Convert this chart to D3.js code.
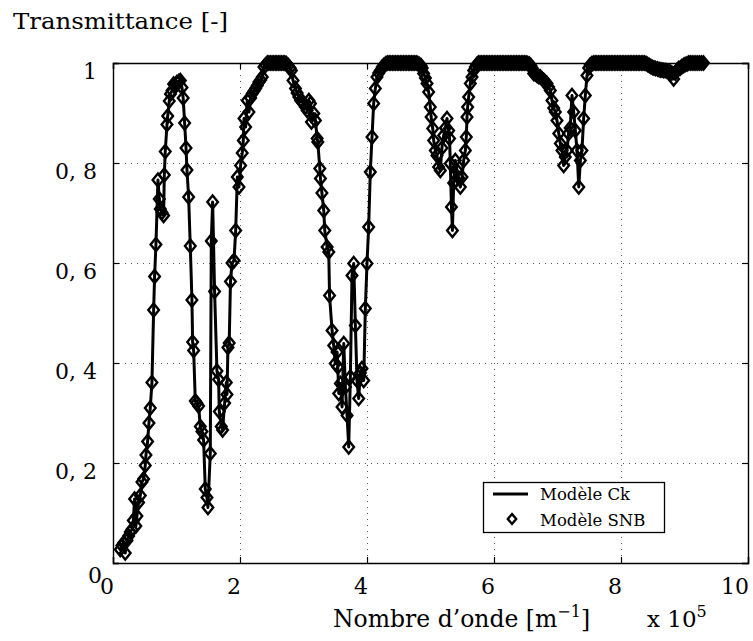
<!DOCTYPE html>
<html>
<head>
<meta charset="utf-8">
<script src="https://cdn.jsdelivr.net/npm/d3@7"></script>
<style>
  html, body { margin: 0; padding: 0; background: #fff; }
  svg { display: block; }
  text { font-family: "DejaVu Serif", "Liberation Serif", serif; fill: #000; }
</style>
</head>
<body>
<svg id="chart" width="753" height="641"></svg>
<script>
// ---------- DATA ----------
// wavenumber in units of 10^5 m^-1
const wavenumber = [
  0.115,0.14,0.167,0.193,0.22,0.246,0.272,0.298,0.32,0.34,0.36,0.377,0.403,0.43,0.456,0.482,0.508,0.519,0.545,0.566,
  0.587,0.613,0.64,0.655,0.676,0.708,0.729,0.745,0.771,0.797,0.808,0.823,0.85,0.862,0.886,0.905,0.93,0.955,0.98,1.007,
  1.035,1.06,1.086,1.105,1.128,1.15,1.165,1.191,1.217,1.243,1.254,1.27,1.296,1.32,1.348,1.375,1.401,1.427,1.453,1.48,
  1.495,1.532,1.548,1.569,1.6,1.637,1.663,1.674,1.705,1.726,1.758,1.784,1.795,1.81,1.83,1.85,1.875,1.906,1.932,1.958,
  1.984,2.01,2.035,2.052,2.063,2.089,2.115,2.141,2.168,2.194,2.22,2.246,2.272,2.298,2.325,2.351,2.377,2.403,2.43,2.455,
  2.48,2.505,2.53,2.555,2.58,2.605,2.63,2.655,2.68,2.705,2.73,2.76,2.79,2.81,2.835,2.874,2.9,2.927,2.955,2.98,
  3.005,3.03,3.058,3.085,3.11,3.125,3.162,3.188,3.215,3.225,3.257,3.267,3.29,3.319,3.335,3.372,3.398,3.41,3.45,3.476,
  3.5,3.529,3.54,3.555,3.581,3.607,3.634,3.66,3.686,3.712,3.738,3.764,3.791,3.817,3.843,3.869,3.895,3.921,3.948,3.974,
  4.0,4.026,4.052,4.079,4.105,4.131,4.157,4.185,4.21,4.24,4.27,4.3,4.325,4.35,4.375,4.4,4.425,4.45,4.475,4.5,
  4.525,4.55,4.575,4.6,4.625,4.65,4.675,4.7,4.725,4.75,4.775,4.8,4.825,4.85,4.87,4.892,4.92,4.945,4.971,4.997,
  5.01,5.035,5.05,5.076,5.102,5.128,5.155,5.18,5.207,5.235,5.26,5.286,5.3,5.312,5.33,5.345,5.365,5.391,5.417,5.445,
  5.47,5.496,5.522,5.549,5.564,5.575,5.585,5.601,5.627,5.654,5.68,5.706,5.73,5.755,5.78,5.805,5.83,5.855,5.88,5.905,
  5.93,5.955,5.98,6.005,6.03,6.055,6.08,6.105,6.13,6.155,6.18,6.205,6.23,6.255,6.28,6.305,6.33,6.355,6.38,6.405,
  6.43,6.455,6.48,6.505,6.53,6.555,6.58,6.6,6.625,6.65,6.68,6.705,6.73,6.76,6.785,6.81,6.835,6.86,6.887,6.913,
  6.94,6.966,6.992,7.02,7.045,7.071,7.097,7.123,7.149,7.175,7.2,7.228,7.255,7.281,7.307,7.335,7.36,7.385,7.412,7.438,
  7.464,7.49,7.515,7.543,7.57,7.595,7.62,7.645,7.67,7.695,7.72,7.745,7.77,7.795,7.82,7.845,7.87,7.895,7.92,7.945,
  7.97,7.995,8.02,8.045,8.07,8.095,8.12,8.145,8.17,8.195,8.22,8.245,8.27,8.295,8.32,8.345,8.37,8.395,8.42,8.445,
  8.47,8.495,8.52,8.545,8.575,8.6,8.62,8.645,8.67,8.695,8.724,8.75,8.775,8.8,8.829,8.855,8.88,8.908,8.935,8.96,
  8.986,9.01,9.04,9.065,9.091,9.12,9.15,9.18,9.21,9.24,9.27,9.3
];

// Modèle Ck (line)
const transmittanceCk = [
  0.027,0.035,0.040,0.020,0.045,0.054,0.062,0.067,0.085,0.128,0.074,0.094,0.121,0.135,0.162,0.168,0.195,0.216,0.243,0.280,
  0.310,0.361,0.506,0.573,0.637,0.766,0.728,0.708,0.701,0.695,0.776,0.823,0.877,0.894,0.924,0.938,0.945,0.958,0.955,0.961,
  0.963,0.965,0.951,0.930,0.880,0.830,0.786,0.732,0.634,0.526,0.442,0.425,0.324,0.320,0.314,0.273,0.263,0.246,0.148,0.131,
  0.111,0.219,0.644,0.722,0.543,0.384,0.367,0.303,0.273,0.266,0.320,0.361,0.337,0.431,0.440,0.563,0.600,0.605,0.665,0.772,
  0.752,0.795,0.820,0.845,0.889,0.872,0.925,0.902,0.930,0.939,0.944,0.949,0.955,0.962,0.966,0.972,0.992,0.996,1.000,1.000,
  1.000,1.000,1.000,1.000,1.000,1.000,1.000,1.000,1.000,1.000,0.999,0.995,0.990,0.985,0.965,0.949,0.940,0.932,0.925,0.922,
  0.919,0.912,0.905,0.925,0.919,0.882,0.899,0.885,0.849,0.842,0.789,0.769,0.740,0.705,0.665,0.632,0.622,0.535,0.465,0.435,
  0.399,0.422,0.392,0.339,0.359,0.312,0.439,0.352,0.295,0.232,0.372,0.575,0.599,0.475,0.365,0.329,0.380,0.389,0.365,0.509,
  0.599,0.672,0.782,0.852,0.919,0.949,0.972,0.980,0.985,0.992,0.996,0.999,1.000,1.000,1.000,1.000,1.000,1.000,1.000,1.000,
  1.000,1.000,1.000,1.000,1.000,1.000,1.000,1.000,1.000,1.000,1.000,0.999,0.997,0.995,0.990,0.979,0.970,0.959,0.942,0.912,
  0.892,0.869,0.845,0.825,0.815,0.792,0.785,0.830,0.855,0.870,0.889,0.865,0.849,0.799,0.712,0.665,0.760,0.805,0.785,0.770,
  0.752,0.772,0.805,0.825,0.852,0.892,0.912,0.932,0.959,0.972,0.985,0.992,0.997,1.000,1.000,1.000,1.000,1.000,1.000,1.000,
  1.000,1.000,1.000,1.000,1.000,1.000,1.000,1.000,1.000,1.000,1.000,1.000,1.000,1.000,1.000,1.000,1.000,1.000,1.000,1.000,
  1.000,1.000,1.000,1.000,0.999,0.998,0.995,0.990,0.979,0.978,0.975,0.973,0.972,0.968,0.965,0.962,0.959,0.952,0.945,0.925,
  0.910,0.902,0.885,0.859,0.839,0.825,0.795,0.812,0.825,0.859,0.870,0.935,0.902,0.865,0.825,0.752,0.805,0.825,0.889,0.935,
  0.975,0.990,0.996,0.999,1.000,1.000,1.000,1.000,1.000,1.000,1.000,1.000,1.000,1.000,1.000,1.000,1.000,1.000,1.000,1.000,
  1.000,1.000,1.000,1.000,1.000,1.000,1.000,1.000,1.000,1.000,1.000,1.000,1.000,1.000,1.000,1.000,1.000,0.999,0.997,0.995,
  0.993,0.991,0.990,0.989,0.988,0.987,0.986,0.986,0.985,0.985,0.984,0.983,0.982,0.980,0.968,0.980,0.985,0.989,0.990,0.993,
  0.995,0.997,0.998,1.000,1.000,1.000,1.000,1.000,1.000,1.000,1.000,1.000
];

// Modèle SNB (diamond markers)
const transmittanceSNB = [
  0.027,0.035,0.040,0.020,0.045,0.054,0.062,0.067,0.085,0.128,0.074,0.094,0.121,0.135,0.162,0.168,0.195,0.216,0.243,0.280,
  0.310,0.361,0.506,0.573,0.637,0.766,0.728,0.708,0.701,0.695,0.776,0.823,0.877,0.894,0.924,0.938,0.945,0.958,0.955,0.961,
  0.963,0.965,0.951,0.930,0.880,0.830,0.786,0.732,0.634,0.526,0.442,0.425,0.324,0.320,0.314,0.273,0.263,0.246,0.148,0.131,
  0.111,0.219,0.644,0.722,0.543,0.384,0.367,0.303,0.273,0.266,0.320,0.361,0.337,0.431,0.440,0.563,0.600,0.605,0.665,0.772,
  0.752,0.795,0.820,0.845,0.889,0.872,0.925,0.902,0.930,0.939,0.944,0.949,0.955,0.962,0.966,0.972,0.992,0.996,1.000,1.000,
  1.000,1.000,1.000,1.000,1.000,1.000,1.000,1.000,1.000,1.000,0.999,0.995,0.990,0.985,0.965,0.949,0.940,0.932,0.925,0.922,
  0.919,0.912,0.905,0.925,0.919,0.882,0.899,0.885,0.849,0.842,0.789,0.769,0.740,0.705,0.665,0.632,0.622,0.535,0.465,0.435,
  0.399,0.422,0.392,0.339,0.359,0.312,0.439,0.352,0.295,0.232,0.372,0.575,0.599,0.475,0.365,0.329,0.380,0.389,0.365,0.509,
  0.599,0.672,0.782,0.852,0.919,0.949,0.972,0.980,0.985,0.992,0.996,0.999,1.000,1.000,1.000,1.000,1.000,1.000,1.000,1.000,
  1.000,1.000,1.000,1.000,1.000,1.000,1.000,1.000,1.000,1.000,1.000,0.999,0.997,0.995,0.990,0.979,0.970,0.959,0.942,0.912,
  0.892,0.869,0.845,0.825,0.815,0.792,0.785,0.830,0.855,0.870,0.889,0.865,0.849,0.799,0.712,0.665,0.760,0.805,0.785,0.770,
  0.752,0.772,0.805,0.825,0.852,0.892,0.912,0.932,0.959,0.972,0.985,0.992,0.997,1.000,1.000,1.000,1.000,1.000,1.000,1.000,
  1.000,1.000,1.000,1.000,1.000,1.000,1.000,1.000,1.000,1.000,1.000,1.000,1.000,1.000,1.000,1.000,1.000,1.000,1.000,1.000,
  1.000,1.000,1.000,1.000,0.999,0.998,0.995,0.990,0.979,0.978,0.975,0.973,0.972,0.968,0.965,0.962,0.959,0.952,0.945,0.925,
  0.910,0.902,0.885,0.859,0.839,0.825,0.795,0.812,0.825,0.859,0.870,0.935,0.902,0.865,0.825,0.752,0.805,0.825,0.889,0.935,
  0.975,0.990,0.996,0.999,1.000,1.000,1.000,1.000,1.000,1.000,1.000,1.000,1.000,1.000,1.000,1.000,1.000,1.000,1.000,1.000,
  1.000,1.000,1.000,1.000,1.000,1.000,1.000,1.000,1.000,1.000,1.000,1.000,1.000,1.000,1.000,1.000,1.000,0.999,0.997,0.995,
  0.993,0.991,0.990,0.989,0.988,0.987,0.986,0.986,0.985,0.985,0.984,0.983,0.982,0.980,0.968,0.980,0.985,0.989,0.990,0.993,
  0.995,0.997,0.998,1.000,1.000,1.000,1.000,1.000,1.000,1.000,1.000,1.000
];

const xTicks = [0, 2, 4, 6, 8, 10];
const xTickLabels = ["0", "2", "4", "6", "8", "10"];
const yTicks = [0, 0.2, 0.4, 0.6, 0.8, 1];
const yTickLabels = ["0", "0, 2", "0, 4", "0, 6", "0, 8", "1"];
const seriesNames = ["Modèle Ck", "Modèle SNB"];

// ---------- DRAWING ----------
const svg = d3.select("#chart");
const L = 113, R = 748, T = 63, B = 563;
const x = d3.scaleLinear().domain([0, 10]).range([L, R]);
const y = d3.scaleLinear().domain([0, 1]).range([B, T]);

svg.append("rect").attr("width", 753).attr("height", 641).attr("fill", "#fff");

// grid
const grid = svg.append("g").attr("stroke", "#555").attr("stroke-width", 1)
  .attr("stroke-dasharray", "1,5").attr("shape-rendering", "crispEdges");
xTicks.filter(v => v > 0 && v < 10).forEach(v => {
  grid.append("line").attr("x1", Math.round(x(v)) + 0.5).attr("x2", Math.round(x(v)) + 0.5)
    .attr("y1", T).attr("y2", B);
});
yTicks.filter(v => v > 0 && v < 1).forEach(v => {
  grid.append("line").attr("y1", Math.round(y(v)) + 0.5).attr("y2", Math.round(y(v)) + 0.5)
    .attr("x1", L).attr("x2", R);
});

// axes (ticks inside, labels drawn separately)
const axB = d3.axisBottom(x).tickValues(xTicks).tickSize(-6).tickFormat("");
const axT = d3.axisTop(x).tickValues(xTicks).tickSize(-6).tickFormat("");
const axL = d3.axisLeft(y).tickValues(yTicks).tickSize(-6).tickFormat("");
const axR = d3.axisRight(y).tickValues(yTicks).tickSize(-6).tickFormat("");
[[axB, `translate(0,${B})`], [axT, `translate(0,${T})`], [axL, `translate(${L},0)`], [axR, `translate(${R},0)`]]
  .forEach(([ax, tr]) => {
    const g = svg.append("g").attr("transform", tr).call(ax);
    g.select(".domain").attr("stroke", "#000").attr("stroke-width", 1.4);
    g.selectAll(".tick line").attr("stroke", "#000").attr("stroke-width", 1.2);
  });

// tick labels
svg.append("g").selectAll("text").data(xTicks).join("text")
  .attr("x", d => x(d) + 1).attr("y", 594)
  .attr("text-anchor", "end").attr("font-size", 22)
  .text((d, i) => xTickLabels[i]);
svg.append("g").selectAll("text").data(yTicks).join("text")
  .attr("x", d => d === 0 ? 102 : 97)
  .attr("y", d => d === 0 ? 583 : y(d) + 16)
  .attr("text-anchor", "end").attr("font-size", 22)
  .text((d, i) => yTickLabels[i]);

// series
const pts = wavenumber.map((w, i) => ({ w, ck: transmittanceCk[i], snb: transmittanceSNB[i] }));
const line = d3.line().x(d => x(d.w)).y(d => y(d.ck));
svg.append("path").datum(pts).attr("d", line)
  .attr("fill", "none").attr("stroke", "#000").attr("stroke-width", 3).attr("stroke-linejoin", "round");

const diamond = "M0,-6.5L5.3,0L0,6.5L-5.3,0Z";
svg.append("g").selectAll("path").data(pts).join("path")
  .attr("d", diamond)
  .attr("transform", d => `translate(${x(d.w)},${y(d.snb)})`)
  .attr("fill", "none").attr("stroke", "#000").attr("stroke-width", 2.4);

// titles
svg.append("text").attr("x", 13).attr("y", 29).attr("font-size", 22)
  .attr("textLength", 215).attr("lengthAdjust", "spacingAndGlyphs").text("Transmittance [-]");
const xt = svg.append("text").attr("x", 333).attr("y", 627).attr("font-size", 23.5);
xt.append("tspan").text("Nombre d\u2019onde [m");
xt.append("tspan").attr("dy", -10).attr("font-size", 16).text("\u22121");
xt.append("tspan").attr("dy", 10).text("]");
const xs = svg.append("text").attr("x", 647).attr("y", 627).attr("font-size", 23);
xs.append("tspan").text("x 10");
xs.append("tspan").attr("dy", -10).attr("font-size", 16).text("5");

// legend
const lg = svg.append("g");
lg.append("rect").attr("x", 483.5).attr("y", 482.5).attr("width", 181).attr("height", 50)
  .attr("fill", "#fff").attr("stroke", "#000").attr("stroke-width", 1.3);
lg.append("line").attr("x1", 493).attr("x2", 528).attr("y1", 494).attr("y2", 494)
  .attr("stroke", "#000").attr("stroke-width", 3);
lg.append("path").attr("d", "M0,-5L4.2,0L0,5L-4.2,0Z").attr("transform", "translate(512,519)")
  .attr("fill", "none").attr("stroke", "#000").attr("stroke-width", 2.4);
lg.append("text").attr("x", 540).attr("y", 500).attr("font-size", 16.5).text(seriesNames[0]);
lg.append("text").attr("x", 540).attr("y", 526).attr("font-size", 16.5).text(seriesNames[1]);
</script>
</body>
</html>
